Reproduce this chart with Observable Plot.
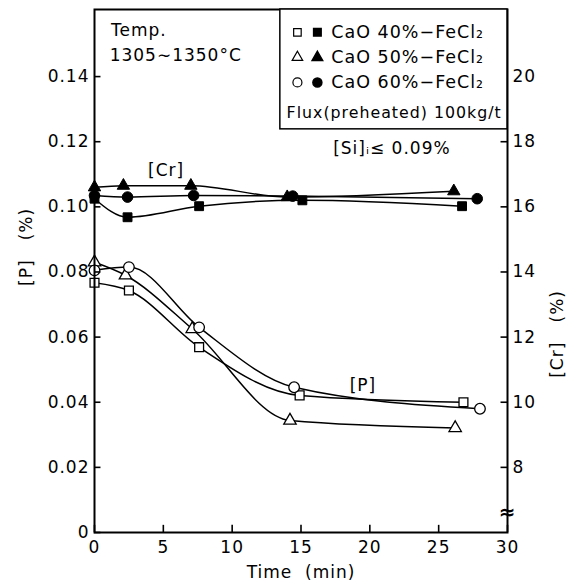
<!DOCTYPE html>
<html><head><meta charset="utf-8">
<script src="https://cdn.jsdelivr.net/npm/d3@7"></script>
<script src="https://cdn.jsdelivr.net/npm/@observablehq/plot@0.6"></script>
<style>
body{margin:0;background:#fff}
#chart svg{font-family:"DejaVu Sans",sans-serif;letter-spacing:1px}
</style>
</head><body><div id="chart"></div>
<script>
// ---- data ----
const seriesLabels = ["CaO 40%−FeCl₂", "CaO 50%−FeCl₂", "CaO 60%−FeCl₂"];
// [P] (%), open markers
const p40Time = [0, 2.5, 7.6, 14.9, 26.8];
const p40     = [0.0767, 0.0743, 0.0569, 0.0421, 0.0400];
const p50Time = [0, 2.25, 7.1, 14.2, 26.2];
const p50     = [0.0830, 0.0790, 0.0625, 0.0344, 0.0321];
const p60Time = [0, 2.5, 7.6, 14.5, 28.0];
const p60     = [0.0805, 0.0815, 0.0630, 0.0446, 0.0380];
// [Cr] (%), filled markers
const cr40Time = [0, 2.4, 7.6, 15.1, 26.7];
const cr40     = [16.25, 15.68, 16.02, 16.20, 16.02];
const cr50Time = [0, 2.1, 7.0, 14.0, 26.1];
const cr50     = [16.60, 16.65, 16.65, 16.30, 16.48];
const cr60Time = [0, 2.4, 7.2, 14.4, 27.8];
const cr60     = [16.35, 16.30, 16.35, 16.33, 16.25];
// ticks
const xTicks  = [0, 5, 10, 15, 20, 25, 30];
const pTicks  = [0, 0.02, 0.04, 0.06, 0.08, 0.10, 0.12, 0.14];
const crTicks = [8, 10, 12, 14, 16, 18, 20];
// texts
const tempText = ["Temp.", "1305∼1350°C"];
const fluxText = "Flux(preheated) 100kg/t";
const siText = "[Si]ᵢ≤ 0.09%";

// ---- helpers ----
const crToY = c => (c - 6) / 100;   // right axis: Cr 8 ↔ P 0.02, Cr 20 ↔ P 0.14
const zip = (series, ts, vs) => ts.map((t, i) => ({series, t, v: vs[i]}));
const pSets  = [zip(seriesLabels[0], p40Time, p40), zip(seriesLabels[1], p50Time, p50), zip(seriesLabels[2], p60Time, p60)];
const crSets = [zip(seriesLabels[0], cr40Time, cr40), zip(seriesLabels[1], cr50Time, cr50), zip(seriesLabels[2], cr60Time, cr60)];
const symbolOf = ["square", "triangle", "circle"];
const rOf = [5, 4.6, 5.3];

const marks = [];
// lines
pSets.forEach(d => marks.push(Plot.line(d, {x: "t", y: "v", curve: "monotone-x", stroke: "black", strokeWidth: 1.5})));
crSets.forEach(d => marks.push(Plot.line(d, {x: "t", y: d2 => crToY(d2.v), curve: "monotone-x", stroke: "black", strokeWidth: 1.5})));
// points
pSets.forEach((d, i) => marks.push(Plot.dot(d, {x: "t", y: "v", symbol: symbolOf[i], r: rOf[i], fill: "white", stroke: "black", strokeWidth: 1.3})));
crSets.forEach((d, i) => marks.push(Plot.dot(d, {x: "t", y: d2 => crToY(d2.v), symbol: symbolOf[i], r: rOf[i], fill: "black", stroke: "black", strokeWidth: 1})));

// inward tick marks
marks.push(Plot.ruleX(xTicks, {x: d => d, y1: () => 0, y2: () => 0.0022, stroke: "black", strokeWidth: 1.6}));
marks.push(Plot.ruleY(pTicks, {y: d => d, x1: () => 0, x2: () => 0.47, stroke: "black", strokeWidth: 1.6}));
marks.push(Plot.ruleY(crTicks.map(crToY), {y: d => d, x1: () => 29.53, x2: () => 30, stroke: "black", strokeWidth: 1.6}));
// axis labels
marks.push(Plot.axisX({ticks: xTicks, tickSize: 0, tickPadding: 8, tickFormat: d => String(d), label: null, fontSize: 17}));
marks.push(Plot.axisY({anchor: "left", ticks: pTicks, tickSize: 0, tickPadding: 5, tickFormat: d => d === 0 ? "0" : d.toFixed(2), label: null, fontSize: 17}));
marks.push(Plot.axisY({anchor: "right", ticks: crTicks.map(crToY), tickSize: 0, tickPadding: 5, tickFormat: v => String(Math.round(v * 100 + 6)), label: null, fontSize: 17}));
marks.push(Plot.frame({stroke: "black", strokeWidth: 2}));

// axis titles
marks.push(Plot.text(["[P]   (%)"], {frameAnchor: "left", dx: -68, dy: 15, rotate: -90, fontSize: 17}));
marks.push(Plot.text(["[Cr]   (%)"], {frameAnchor: "right", dx: 50, dy: 19, rotate: -90, fontSize: 17}));
marks.push(Plot.text(["Time  (min)"], {frameAnchor: "bottom", dy: 45, fontSize: 17}));

// annotations (data coordinates)
const notes = [
  {t: 1.2, y: 0.1540, text: tempText[0], anchor: "start"},
  {t: 1.1, y: 0.1465, text: tempText[1], anchor: "start"},
  {t: 5.2, y: 0.1110, text: "[Cr]", anchor: "middle"},
  {t: 19.5, y: 0.0451, text: "[P]", anchor: "middle"},
  {t: 21.6, y: 0.1180, text: siText, anchor: "middle"}
];
notes.forEach(n => marks.push(Plot.text([n], {x: "t", y: "y", text: "text", textAnchor: n.anchor, fontSize: 17})));

// axis break on right axis
marks.push(Plot.text(["≈"], {x: () => 30, y: () => 0.0062, fontSize: 20, fontWeight: "bold"}));

// legend box
const legendBox = [{x1: 13.5, x2: 30, y1: 0.1238, y2: 0.1606}];
marks.push(Plot.rect(legendBox, {x1: "x1", x2: "x2", y1: "y1", y2: "y2", fill: "white", stroke: "black", strokeWidth: 1.5}));
const legendRowsY = [0.1536, 0.1459, 0.1382];
seriesLabels.forEach((lab, i) => {
  const row = [{y: legendRowsY[i], text: lab}];
  marks.push(Plot.dot(row, {x: () => 14.74, y: "y", symbol: symbolOf[i], r: rOf[i] * 0.85, fill: "white", stroke: "black", strokeWidth: 1.2}));
  marks.push(Plot.dot(row, {x: () => 16.19, y: "y", symbol: symbolOf[i], r: rOf[i] * 0.85, fill: "black", stroke: "black"}));
  marks.push(Plot.text(row, {x: () => 17.2, y: "y", text: "text", textAnchor: "start", fontSize: 17.5}));
});
marks.push(Plot.text([fluxText], {x: () => 13.95, y: () => 0.1287, textAnchor: "start", fontSize: 15.8}));

const chart = Plot.plot({
  width: 574, height: 587,
  marginLeft: 94, marginRight: 67, marginTop: 9, marginBottom: 55,
  x: {domain: [0, 30]},
  y: {domain: [0, 0.1606]},
  style: {fontSize: "17px", color: "black", background: "white"},
  marks
});
document.getElementById("chart").append(chart);
</script>
</body></html>
